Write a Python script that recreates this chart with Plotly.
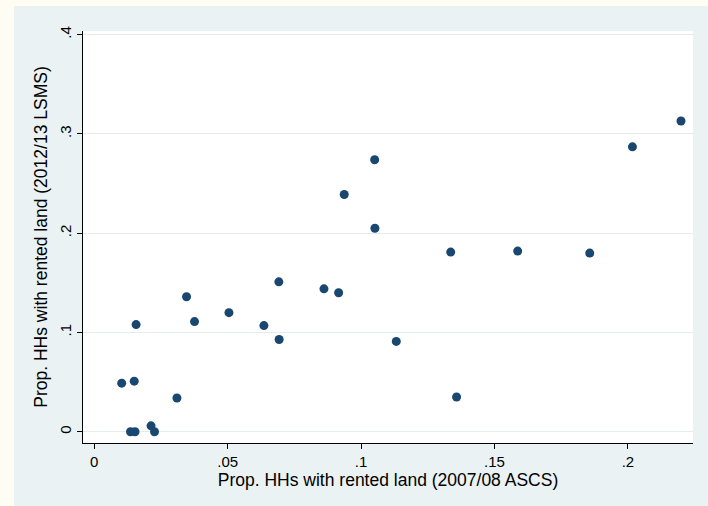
import plotly.graph_objects as go

# Share of households renting land: 2007/08 ASCS vs 2012/13 LSMS
ascs_0708 = [0.0103, 0.0150, 0.0136, 0.0153, 0.0213, 0.0226, 0.0310, 0.0157,
             0.0346, 0.0376, 0.0505, 0.0636, 0.0693, 0.0692, 0.0861, 0.0916,
             0.0937, 0.1051, 0.1052, 0.1132, 0.1336, 0.1358, 0.1587, 0.1857,
             0.2017, 0.2199]
lsms_1213 = [0.049, 0.051, 0.000, 0.000, 0.006, 0.000, 0.034, 0.108,
             0.136, 0.111, 0.120, 0.107, 0.093, 0.151, 0.144, 0.140,
             0.239, 0.274, 0.205, 0.091, 0.181, 0.035, 0.182, 0.180,
             0.287, 0.313]

x_ticks = [0, 0.05, 0.1, 0.15, 0.2]
x_tick_labels = ["0", ".05", ".1", ".15", ".2"]
y_ticks = [0, 0.1, 0.2, 0.3, 0.4]
y_tick_labels = ["0", ".1", ".2", ".3", ".4"]

x_title = "Prop. HHs with rented land (2007/08 ASCS)"
y_title = "Prop. HHs with rented land (2012/13 LSMS)"

W, H = 708, 506
ML, MR, MT, MB = 83, 15, 31, 63
PW, PH = W - ML - MR, H - MT - MB

NAVY = "#1a476f"
GRID = "#e4ecee"
OUTER = "#eaf2f3"
CREAM = "#fffcf3"
FONT = "Liberation Sans, Arial, Helvetica, sans-serif"

fig = go.Figure()
fig.add_trace(go.Scatter(
    x=ascs_0708, y=lsms_1213, mode="markers",
    marker=dict(color=NAVY, size=9, line=dict(width=0)),
    showlegend=False, hoverinfo="x+y",
))

# outer graph region (light blue-gray) and white plot region
fig.add_shape(type="rect", xref="paper", yref="paper", layer="below",
              x0=(14 - ML) / PW, x1=(W - ML) / PW,
              y0=-(MB) / PH, y1=(H - 6 - MB) / PH,
              fillcolor=OUTER, line=dict(width=0))
fig.add_shape(type="rect", xref="paper", yref="paper", layer="below",
              x0=0, x1=1, y0=0, y1=1, fillcolor="white", line=dict(width=0))

fig.update_layout(
    width=W, height=H,
    margin=dict(l=ML, r=MR, t=MT, b=MB, pad=0),
    paper_bgcolor=CREAM, plot_bgcolor="white",
    font=dict(family=FONT, size=15, color="#000000"),
    xaxis=dict(
        range=[-0.0042, 0.2244], tickvals=x_ticks, ticktext=x_tick_labels,
        showgrid=False, zeroline=False, showline=True, linecolor="black",
        linewidth=1, ticks="outside", ticklen=5, tickcolor="black",
        tickfont=dict(size=15),
        title=dict(text=x_title, font=dict(size=17.5), standoff=3),
    ),
    yaxis=dict(
        range=[-0.0113, 0.4037], tickvals=y_ticks, ticktext=y_tick_labels,
        showgrid=True, gridcolor=GRID, gridwidth=1,
        zeroline=False, showline=True, linecolor="black",
        linewidth=1, ticks="outside", ticklen=5, tickcolor="black",
        tickangle=-90, tickfont=dict(size=15),
        title=dict(text=y_title, font=dict(size=17.5), standoff=4),
    ),
)

fig.write_html("out.html")
